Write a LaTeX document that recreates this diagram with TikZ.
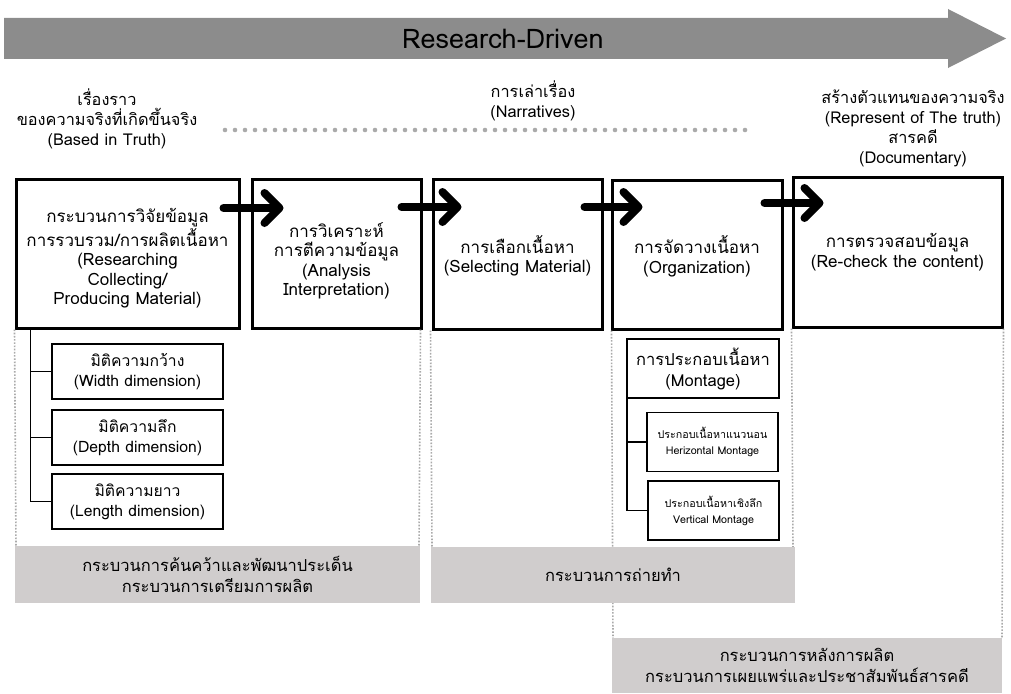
\documentclass[tikz,border=0pt]{standalone}
\usepackage{fontspec}
\setmainfont[Script=Thai]{Loma}
\usetikzlibrary{arrows.meta}
\definecolor{arrowgray}{RGB}{140,140,140}
\definecolor{bandgray}{RGB}{208,205,205}
\definecolor{dotgray}{RGB}{170,170,170}

\begin{document}
\begin{tikzpicture}[x=1pt,y=-1pt,
  every node/.style={inner sep=0pt,align=center},
  mainbox/.style={draw=black,line width=3pt,font=\fontsize{17}{19.5}\selectfont},
  subbox/.style={draw=black,line width=1.6pt,minimum width=171pt,minimum height=55pt,font=\fontsize{15.7}{20}\selectfont},
  smallbox/.style={draw=black,line width=1.6pt,minimum width=131pt,minimum height=59pt,font=\fontsize{10.7}{16}\selectfont},
  band/.style={fill=bandgray,font=\fontsize{16.5}{21}\selectfont},
  label/.style={font=\fontsize{16.3}{20}\selectfont},
  flow/.style={line width=8pt,line cap=round,-{Straight Barb[round,length=15pt,width=30pt]}},
  branch/.style={line width=1.6pt},
  guide/.style={dotgray,line width=1.6pt,dash pattern=on 1.6pt off 1.6pt}]
\useasboundingbox (0,0) rectangle (1011,693);

% research-driven arrow
\fill [arrowgray] (4,18) -- (948,18) -- (948,9) -- (1006,38.5) -- (948,68) -- (948,59) -- (4,59) -- cycle;
\node [font=\fontsize{27}{27}\selectfont] (title) at (503,38.5) {Research-Driven};

% labels above
\node [label] (truth) at (107,119) {เรื่องราว\\ของความจริงที่เกิดขึ้นจริง\\(Based in Truth)};
\node [label] (narr) at (533,101) {การเล่าเรื่อง\\(Narratives)};
\node [label] (repr) at (913,128) {สร้างตัวแทนของความจริง\\(Represent of The truth)\\สารคดี\\(Documentary)};
\draw [dotgray,line width=4.6pt,line cap=round,dash pattern=on 0pt off 10pt] (225,130) -- (750,130);

% process boxes
\node [mainbox,minimum width=223pt,minimum height=149pt] (collect) at (127.5,253.5) {\rule{0pt}{24pt}กระบวนการวิจัยข้อมูล\\การรวบรวม/การผลิตเนื้อหา\\(Researching\\Collecting/\\Producing Material)};
\node [mainbox,minimum width=169pt,minimum height=149pt] (analysis) at (336.5,253.5) {\rule{0pt}{30pt}การวิเคราะห์\\การตีความข้อมูล\\(Analysis\\Interpretation)};
\node [mainbox,minimum width=169pt,minimum height=150pt] (select) at (517.5,254) {\rule{0pt}{22pt}การเลือกเนื้อหา\\(Selecting Material)};
\node [mainbox,minimum width=170pt,minimum height=149pt] (organize) at (697,254.5) {\rule{0pt}{22pt}การจัดวางเนื้อหา\\(Organization)};
\node [mainbox,minimum width=209pt,minimum height=150pt] (recheck) at (897.5,252) {การตรวจสอบข้อมูล\\(Re-check the content)};

% column guides
\draw [guide] (collect.south west) -- (16,546);
\draw [guide] ([xshift=-2pt]analysis.south east) -- (419,546);
\draw [guide] ([xshift=-1pt]select.south west) -- (432,547);
\draw [guide] ([xshift=1pt]organize.south west) -- (613,638);
\draw [guide] (recheck.south west) -- (793,547);
\draw [guide] (recheck.south east) -- (1002,638);

% phase bands
\node [band,minimum width=405pt,minimum height=57pt] (prep) at (217.5,574.5) {กระบวนการค้นคว้าและพัฒนาประเด็น\\กระบวนการเตรียมการผลิต};
\node [band,minimum width=364pt,minimum height=56pt] (shoot) at (613,575) {กระบวนการถ่ายทำ};
\node [band,minimum width=390pt,minimum height=55pt] (post) at (807,665.5) {กระบวนการหลังการผลิต\\กระบวนการเผยแพร่และประชาสัมพันธ์สารคดี};

% flow arrows
\draw [flow] ([shift={(-17,-45.5)}]collect.east) -- ([shift={(33,-45.5)}]analysis.west);
\draw [flow] ([shift={(-21,-46.5)}]analysis.east) -- ([shift={(30,-47)}]select.west);
\draw [flow] ([shift={(-19,-47)}]select.east) -- ([shift={(32,-47.5)}]organize.west);
\draw [flow] ([shift={(-19,-51.5)}]organize.east) -- ([shift={(32,-49)}]recheck.west);

% dimensions
\node [subbox] (width) at (137.5,371.5) {มิติความกว้าง\\(Width dimension)};
\node [subbox] (depth) at (137.5,437.5) {มิติความลึก\\(Depth dimension)};
\node [subbox] (length) at (137.5,501.5) {มิติความยาว\\(Length dimension)};
\draw [branch] ([xshift=16pt]collect.south west) |- (width.west);
\draw [branch] ([xshift=16pt]collect.south west) |- (depth.west);
\draw [branch] ([xshift=16pt]collect.south west) |- (length.west);

% montage
\node [subbox,minimum width=152pt,minimum height=59pt,font=\fontsize{16.5}{21}\selectfont] (montage) at (703,368.5) {การประกอบเนื้อหา\\(Montage)};
\node [smallbox] (horiz) at (712.5,442) {ประกอบเนื้อหาแนวนอน\\Herizontal Montage};
\node [smallbox] (vert) at (713.5,510.5) {ประกอบเนื้อหาเชิงลึก\\Vertical Montage};
\draw [branch] ([xshift=1pt]montage.south west) |- (horiz.west);
\draw [branch] ([xshift=1pt]montage.south west) |- (vert.west);
\end{tikzpicture}
\end{document}
